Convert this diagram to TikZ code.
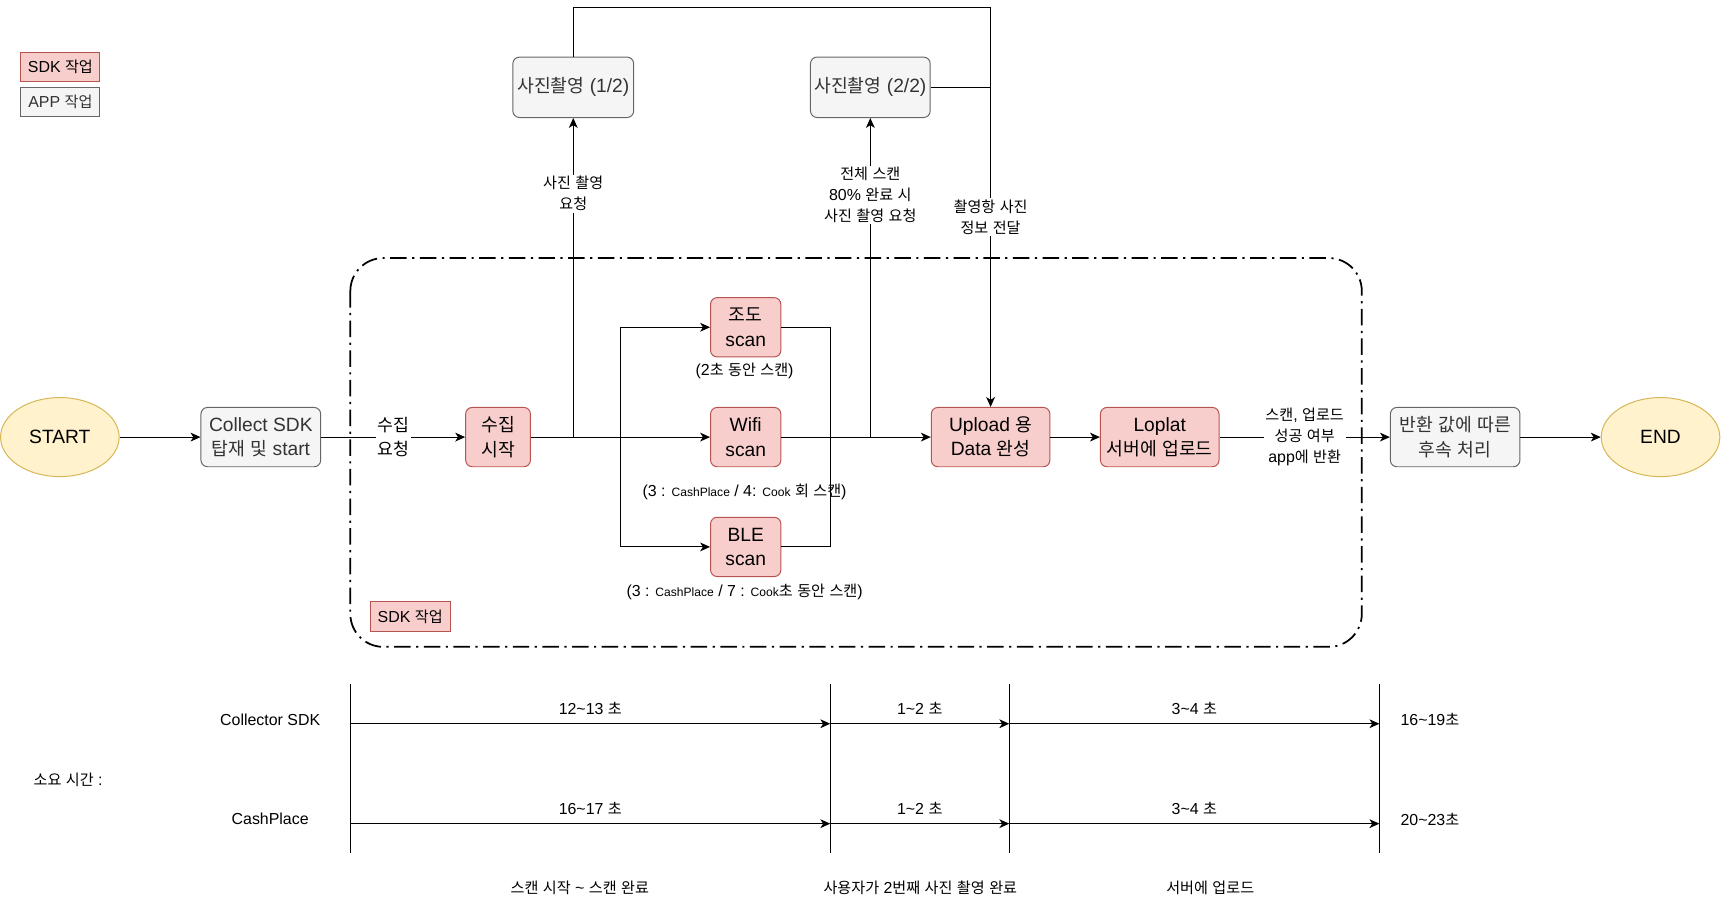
\documentclass[tikz,border=0pt]{standalone}
\usepackage{fontspec}
\usetikzlibrary{arrows.meta,shapes.geometric}
\setmainfont{Liberation Sans}
\newfontfamily\latinfont{Liberation Sans}
\newfontfamily\krfont{Noto Sans CJK KR}[Scale=0.95]

% switch to the Korean face for Hangul syllables automatically
\XeTeXinterchartokenstate=1
\newXeTeXintercharclass\hangulclass
\newcount\hgc
\hgc="AC00
\loop\ifnum\hgc<"D7A4 \XeTeXcharclass\hgc=\hangulclass \advance\hgc by 1 \repeat
\XeTeXinterchartoks 0 \hangulclass = {\krfont}
\XeTeXinterchartoks 4095 \hangulclass = {\krfont}
\XeTeXinterchartoks \hangulclass 0 = {\latinfont}
\XeTeXinterchartoks \hangulclass 4095 = {\latinfont}

\definecolor{sdkfill}{HTML}{F8CECC}
\definecolor{sdkline}{HTML}{B85450}
\definecolor{appfill}{HTML}{F5F5F5}
\definecolor{appline}{HTML}{666666}
\definecolor{apptext}{HTML}{333333}
\definecolor{termfill}{HTML}{FFF2CC}
\definecolor{termline}{HTML}{D6B656}

\newcommand\fsMain{\fontsize{17.5}{22}\selectfont}
\newcommand\fsMid{\fontsize{16.5}{22}\selectfont}
\newcommand\fsLabel{\fontsize{14.5}{19}\selectfont}
\newcommand\fsTiny{\fontsize{11}{14}\selectfont}
\newcommand\tl{\textasciitilde}

\tikzset{
  box/.style={rounded corners=6pt, line width=0.9pt, align=center, inner sep=0pt, font=\fsMain},
  sdkbox/.style={box, draw=sdkline, fill=sdkfill},
  appbox/.style={box, draw=appline, fill=appfill, text=apptext},
  termnode/.style={ellipse, draw=termline, fill=termfill, line width=0.9pt,
    minimum width=108pt, minimum height=72pt, inner sep=0pt, font=\fsMain},
  tagbox/.style={draw, line width=0.9pt, minimum width=72pt, minimum height=26pt,
    inner sep=0pt, font=\fsLabel},
  lbl/.style={font=\fsLabel, align=center, fill=white, inner sep=1.5pt},
  note/.style={font=\fsLabel, align=center, inner sep=0pt},
  arr/.style={-{Stealth[length=9pt,width=8pt,inset=2.5pt]}},
  conn/.style={line width=0.9pt},
  group/.style={line width=1.6pt, rounded corners=30pt,
    dash pattern=on 15pt off 5pt on 2pt off 5pt},
}

\begin{document}
\begin{tikzpicture}[x=1pt, y=-1pt]
\useasboundingbox (0,0) rectangle (1568,824);

% legend
\node[tagbox, draw=sdkline, fill=sdkfill] (legsdk) at (55,61) {SDK 작업};
\node[tagbox, draw=appline, fill=appfill, text=apptext] (legapp) at (55,93) {APP 작업};

% SDK work area
\draw[group] (319,235) rectangle (1240,589);
\node[tagbox, draw=sdkline, fill=sdkfill, minimum width=73pt, minimum height=27pt] (areatag) at (373.5,561.5) {SDK 작업};

% main flow
\node[termnode] (start) at (54.5,398) {START};
\node[appbox, minimum width=109pt, minimum height=54pt] (collect) at (237.5,398) {Collect SDK\\탑재 및 start};
\node[sdkbox, minimum width=59pt, minimum height=54pt] (sj) at (453.5,398) {수집\\시작};
\node[sdkbox, minimum width=64pt, minimum height=54pt] (jodo) at (679,298) {조도\\scan};
\node[sdkbox, minimum width=64pt, minimum height=54pt] (wifi) at (679,398) {Wifi\\scan};
\node[sdkbox, minimum width=64pt, minimum height=54pt] (ble) at (679,498) {BLE\\scan};
\node[sdkbox, minimum width=108pt, minimum height=54pt] (upload) at (902,398) {Upload 용\\Data 완성};
\node[sdkbox, minimum width=108pt, minimum height=54pt] (loplat) at (1056,398) {Loplat\\서버에 업로드};
\node[appbox, minimum width=118pt, minimum height=54pt] (after) at (1325,398) {반환 값에 따른\\후속 처리};
\node[termnode] (end) at (1512,398) {END};

% photo steps
\node[appbox, minimum width=110pt, minimum height=55pt] (p1) at (522,79.5) {사진촬영 (1/2)};
\node[appbox, minimum width=109pt, minimum height=55pt] (p2) at (792.5,79.5) {사진촬영 (2/2)};

% scan notes
\node[note] (njodo) at (678,338) {(2초 동안 스캔)};
\node[note] (nwifi) at (678,448) {(3 : {\fsTiny CashPlace} / 4: {\fsTiny Cook} 회 스캔)};
\node[note] (nble) at (678,539) {(3 : {\fsTiny CashPlace} / 7 : {\fsTiny Cook}초 동안 스캔)};

% connectors
\coordinate (split) at (565,398);
\coordinate (merge) at (756,398);
\coordinate (topy) at (522,7);

\draw[conn, arr] (start) -- (collect);
\draw[conn, arr] (collect) -- node[lbl, font=\fsMid] {수집\\요청} (sj);
\draw[conn, arr] (sj) -- (wifi);
\draw[conn, arr] (split) |- (jodo.west);
\draw[conn, arr] (split) |- (ble.west);
\draw[conn] (jodo.east) -- (jodo.east -| merge) -- (ble.east -| merge) -- (ble.east);
\draw[conn, arr] (wifi) -- (upload);
\draw[conn, arr] (p1.south |- sj.east) -- node[lbl, pos=0.763] {사진 촬영\\요청} (p1.south);
\draw[conn, arr] (p2.south |- wifi.east) -- node[lbl, pos=0.759] {전체 스캔\\80\% 완료 시\\사진 촬영 요청} (p2.south);
\draw[conn] (p1.north) -- (topy) -- (topy -| upload.north);
\draw[conn, arr] (topy -| upload.north) -- node[lbl, pos=0.525] {촬영항 사진\\정보 전달} (upload.north);
\draw[conn] (p2.east) -- (p2.east -| upload.north);
\draw[conn, arr] (upload) -- (loplat);
\draw[conn, arr] (loplat) -- node[lbl] {스캔, 업로드\\성공 여부\\app에 반환} (after);
\draw[conn, arr] (after) -- (end);

% elapsed time chart
\coordinate (va) at (319,623); \coordinate (vab) at (319,777);
\coordinate (vb) at (756,623); \coordinate (vbb) at (756,777);
\coordinate (vc) at (919,623); \coordinate (vcb) at (919,777);
\coordinate (vd) at (1256,623); \coordinate (vdb) at (1256,777);
\coordinate (rowa) at (0,659);
\coordinate (rowb) at (0,750);

\draw[conn] (va) -- (vab);
\draw[conn] (vb) -- (vbb);
\draw[conn] (vc) -- (vcb);
\draw[conn] (vd) -- (vdb);

\draw[conn, arr] (va |- rowa) -- node[note, above=8pt] {12\tl13 초} (vb |- rowa);
\draw[conn, arr] (vb |- rowa) -- node[note, above=8pt] {1\tl2 초} (vc |- rowa);
\draw[conn, arr] (vc |- rowa) -- node[note, above=8pt] {3\tl4 초} (vd |- rowa);
\draw[conn, arr] (va |- rowb) -- node[note, above=8pt] {16\tl17 초} (vb |- rowb);
\draw[conn, arr] (vb |- rowb) -- node[note, above=8pt] {1\tl2 초} (vc |- rowb);
\draw[conn, arr] (vc |- rowb) -- node[note, above=8pt] {3\tl4 초} (vd |- rowb);

\node[note] (rowaname) at (246,655) {Collector SDK};
\node[note] (rowbname) at (246,746) {CashPlace};
\node[note] (rowatotal) at (1302,655) {16\tl19초};
\node[note] (rowbtotal) at (1302,746) {20\tl23초};
\node[note] (timetitle) at (62,710) {소요 시간 :};

\node[note] (phase1) at (528,808) {스캔 시작 \tl\ 스캔 완료};
\node[note] (phase2) at (838,808) {사용자가 2번째 사진 촬영 완료};
\node[note] (phase3) at (1102,808) {서버에 업로드};
\end{tikzpicture}
\end{document}
